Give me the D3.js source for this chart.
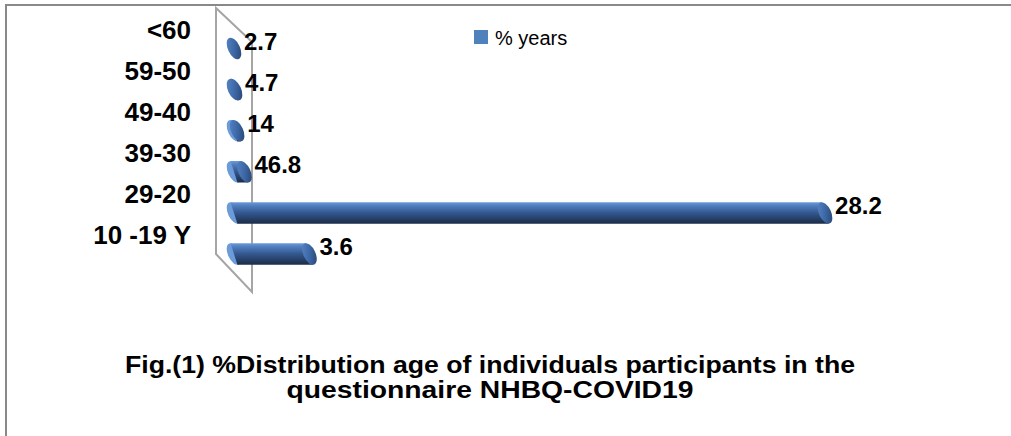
<!DOCTYPE html>
<html>
<head>
<meta charset="utf-8">
<script src="https://cdn.jsdelivr.net/npm/d3@7"></script>
<style>
  html, body { margin: 0; padding: 0; background: #fff; }
  svg { display: block; }
</style>
</head>
<body>
<svg id="chart" width="1011" height="436"></svg>
<script>
// Age groups, bottom to top as they appear on the category axis
const categories = ["10 -19 Y", "29-20", "39-30", "49-40", "59-50", "<60"];
// Bar lengths along the value axis
const barLengths = [3.6, 28.2, 0.5, 0.15, 0.05, 0];
// Data labels printed beside each bar
const valueLabels = ["3.6", "28.2", "46.8", "14", "4.7", "2.7"];
const seriesName = "% years";
const titleLines = [
  "Fig.(1) %Distribution age of individuals participants in the",
  "questionnaire NHBQ-COVID19"
];

const svg = d3.select("#chart");
const defs = svg.append("defs");
const FONT = "Liberation Sans, Arial, sans-serif";

// Chart frame
svg.append("rect")
  .attr("x", 6).attr("y", 5)
  .attr("width", 1030).attr("height", 460)
  .attr("fill", "#fff")
  .attr("stroke", "#898989")
  .attr("stroke-width", 2);

// Scales
const x = d3.scaleLinear().domain([0, 30]).range([234, 234 + 30 * 20.96]);
const y = d3.scalePoint().domain(categories).range([254, 48.5]);

// 3-D back wall of the category axis
const wall = [[216, 8], [252, 42], [252, 292], [216, 254]];
svg.append("path")
  .attr("d", d3.line()(wall) + "Z")
  .attr("fill", "none")
  .attr("stroke", "#a5a5a5")
  .attr("stroke-width", 2);

// Cylinder end-face geometry (tilted ellipse)
const a = 6, b = 11.5, rot = -25;
const th = rot * Math.PI / 180;
const H = Math.sqrt(a * a * Math.sin(th) ** 2 + b * b * Math.cos(th) ** 2);
const xb = (a * a - b * b) * Math.sin(th) * Math.cos(th) / H;

// End-face gradient
const capGrad = defs.append("linearGradient")
  .attr("id", "capGrad")
  .attr("x1", "0").attr("y1", "0").attr("x2", "1").attr("y2", "1");
capGrad.append("stop").attr("offset", "0%").attr("stop-color", "#5a88c8");
capGrad.append("stop").attr("offset", "50%").attr("stop-color", "#3d68a6");
capGrad.append("stop").attr("offset", "100%").attr("stop-color", "#243f68");

const bars = svg.append("g").attr("class", "bars");

categories.forEach((cat, i) => {
  const cy = y(cat);
  const cx0 = x(0);
  const cx1 = x(barLengths[i]);
  const gid = "bodyGrad" + i;
  const g = defs.append("linearGradient")
    .attr("id", gid)
    .attr("gradientUnits", "userSpaceOnUse")
    .attr("x1", 0).attr("x2", 0)
    .attr("y1", cy - H).attr("y2", cy + H);
  g.append("stop").attr("offset", "0%").attr("stop-color", "#6c9bda");
  g.append("stop").attr("offset", "15%").attr("stop-color", "#5280c0");
  g.append("stop").attr("offset", "50%").attr("stop-color", "#33578f");
  g.append("stop").attr("offset", "100%").attr("stop-color", "#1b2c47");

  const bar = bars.append("g");
  const long = cx1 - cx0 > 2;
  // left rounded end
  bar.append("ellipse")
    .attr("cx", 0).attr("cy", 0).attr("rx", a).attr("ry", b)
    .attr("transform", `translate(${cx0},${cy}) rotate(${rot})`)
    .attr("fill", long ? `url(#${gid})` : "url(#capGrad)");
  if (cx1 > cx0) {
    // cylinder body
    const body = [
      [cx0 - xb, cy - H], [cx1 - xb, cy - H],
      [cx1 + xb, cy + H], [cx0 + xb, cy + H]
    ];
    bar.append("path")
      .attr("d", d3.line()(body) + "Z")
      .attr("fill", `url(#${gid})`);
    // right end face
    bar.append("ellipse")
      .attr("cx", 0).attr("cy", 0).attr("rx", a).attr("ry", b)
      .attr("transform", `translate(${cx1},${cy}) rotate(${rot})`)
      .attr("fill", "url(#capGrad)");
  }

  // data label
  svg.append("text")
    .attr("x", cx1 + 10)
    .attr("y", cy + 1)
    .attr("font-family", FONT)
    .attr("font-weight", "bold")
    .attr("font-size", 24)
    .attr("fill", "#000")
    .text(valueLabels[i]);

  // category label
  svg.append("text")
    .attr("x", 191)
    .attr("y", cy - 10)
    .attr("text-anchor", "end")
    .attr("font-family", FONT)
    .attr("font-weight", "bold")
    .attr("font-size", 26)
    .attr("fill", "#000")
    .text(cat);
});

// Legend
const legend = svg.append("g").attr("transform", "translate(474,30)");
legend.append("rect")
  .attr("width", 14).attr("height", 14)
  .attr("fill", "#4f81bd");
legend.append("text")
  .attr("x", 21).attr("y", 15)
  .attr("font-family", FONT)
  .attr("font-size", 20)
  .attr("fill", "#000")
  .text(seriesName);

// Title (two centred lines, stretched to the chart's wide aspect)
const titleWidths = [730, 407];
svg.append("g").selectAll("text")
  .data(titleLines)
  .join("text")
  .attr("x", (d, i) => 490 - titleWidths[i] / 2)
  .attr("y", (d, i) => 373 + i * 25)
  .attr("textLength", (d, i) => titleWidths[i])
  .attr("lengthAdjust", "spacingAndGlyphs")
  .attr("font-family", FONT)
  .attr("font-weight", "bold")
  .attr("font-size", 23)
  .attr("fill", "#000")
  .text(d => d);
</script>
</body>
</html>
